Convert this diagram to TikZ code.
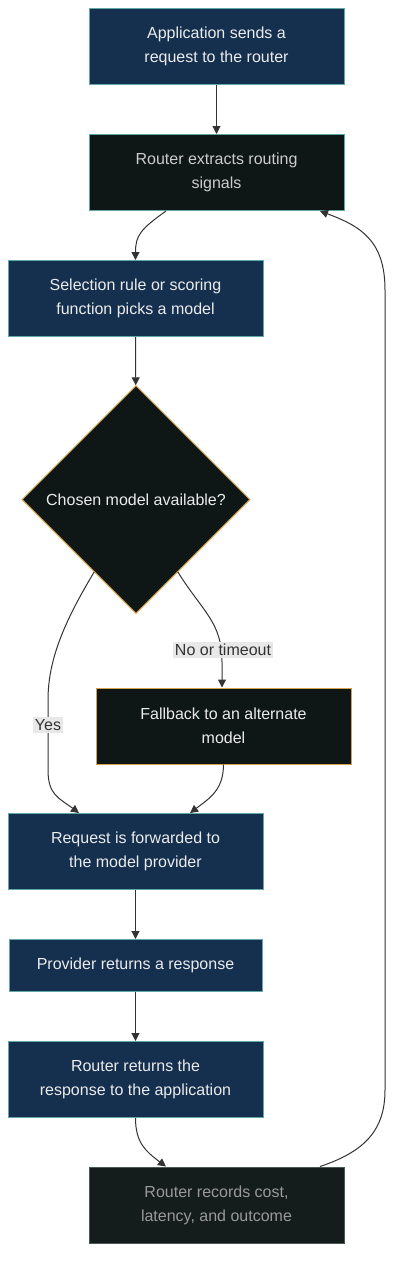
\documentclass[tikz,border=0pt]{standalone}
\usepackage{fontspec}
\setmainfont{Liberation Sans}
\usetikzlibrary{shapes.geometric,arrows.meta}
\definecolor{navy}{HTML}{15304F}
\definecolor{darkbg}{HTML}{0F1716}
\definecolor{recbg}{HTML}{151D1C}
\definecolor{tealb}{HTML}{5FA8A5}
\definecolor{goldb}{HTML}{D4A24C}
\definecolor{recb}{HTML}{4A5856}
\definecolor{edge}{HTML}{333333}
\definecolor{lblbg}{HTML}{E8E8E8}
\begin{document}
\begin{tikzpicture}[x=0.75pt,y=-0.75pt,
  box/.style={rectangle,inner sep=0pt,minimum width=191.25pt,minimum height=57pt,
    align=center,font=\fontsize{12pt}{18pt}\selectfont,line width=0.75pt},
  navybox/.style={box,fill=navy,draw=tealb,text=white!92!black},
  darkbox/.style={box,fill=darkbg,draw=tealb,text=black!20},
  goldbox/.style={box,fill=darkbg,draw=goldb,text=white!92!black},
  recbox/.style={box,fill=recbg,draw=recb,text=black!40},
  decision/.style={diamond,aspect=1,inner sep=0pt,minimum width=171pt,minimum height=171pt,
    fill=darkbg,draw=goldb,line width=0.75pt,text=white!92!black,
    font=\fontsize{12pt}{18pt}\selectfont},
  conn/.style={draw=edge,line width=0.75pt,-{Triangle[length=6pt,width=6pt]}},
  lbl/.style={fill=lblbg,text=edge,inner sep=1.5pt,font=\fontsize{12pt}{14pt}\selectfont}
]
\useasboundingbox (0,0) rectangle (401,1274);
\node[navybox] (app) at (216.5,46.5) {Application sends a\\request to the router};
\node[darkbox] (ext) at (216.5,172.5) {Router extracts routing\\signals};
\node[navybox] (sel) at (135.5,298.5) {Selection rule or scoring\\function picks a model};
\node[decision] (dec) at (136,499.5) {Chosen model available?};
\node[goldbox] (fb) at (223.5,726) {Fallback to an alternate\\model};
\node[navybox] (req) at (135.5,851.5) {Request is forwarded to\\the model provider};
\node[navybox,minimum width=189.75pt,minimum height=39pt] (prov) at (135.5,965.5) {Provider returns a response};
\node[navybox] (ret) at (135.5,1079.5) {Router returns the\\response to the application};
\node[recbox] (rec) at (216.5,1205) {Router records cost,\\latency, and outcome};

\coordinate (ya) at (48,700);
\coordinate (yb) at (48,770);
\coordinate (na) at (222,662);
\coordinate (ra) at (385,1090);
\coordinate (rb) at (385,290);

\draw[conn] (app) -- (ext);
\draw[conn] ([xshift=-37.9pt]ext.south) .. controls +(-25,18) and +(0,-25) .. (sel.north);
\draw[conn] (sel) -- (dec);
\draw[conn] (dec.240) .. controls +(-30,50) and +(0,-40) .. (ya) -- (yb)
   .. controls +(0,25) and +(-20,-15) .. ([xshift=-42.4pt]req.north);
\draw[conn] (dec.300) .. controls +(25,40) and +(0,-40) .. (na) -- (na |- fb.north);
\draw[conn] (fb.south) .. controls +(0,25) and +(20,-15) .. ([xshift=40.9pt]req.north);
\draw[conn] (req) -- (prov);
\draw[conn] (prov) -- (ret);
\draw[conn] (ret.south) .. controls +(0,25) and +(-20,-15) .. ([xshift=-37.9pt]rec.north);
\draw[conn] ([xshift=77.6pt]rec.north) .. controls +(45,-15) and +(0,40) .. (ra) -- (rb)
   .. controls +(0,-50) and +(40,15) .. ([xshift=77.6pt]ext.south);

\node[lbl] (yes) at (48,725) {Yes};
\node[lbl] (no) at (223,650) {No or timeout};
\end{tikzpicture}
\end{document}
